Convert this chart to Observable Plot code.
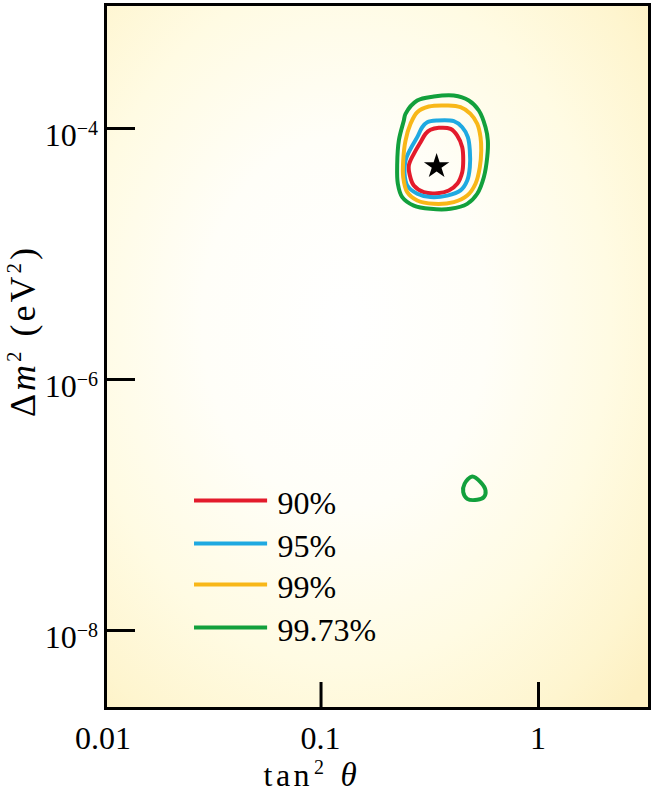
<!DOCTYPE html>
<html><head><meta charset="utf-8">
<script src="https://cdn.jsdelivr.net/npm/d3@7"></script>
<script src="https://cdn.jsdelivr.net/npm/@observablehq/plot@0.6"></script>
<style>body{margin:0;background:#fff}svg{display:block}</style>
</head><body><div id="chart"></div>
<script>
// ---- data ----
const xTicks = [0.01, 0.1, 1];
const xTickLabels = ["0.01", "0.1", "1"];
const yTicks = [1e-4, 1e-6, 1e-8];
const yTickExponents = ["−4", "−6", "−8"];
const levels = ["90%", "95%", "99%", "99.73%"];
const colors = ["#e31b2c", "#1fa9e1", "#f8b718", "#12a03c"];

const contour90 = [[0.3187,9.76e-5],[0.3480,1.013e-4],[0.3939,9.94e-5],[0.4229,8.79e-5],[0.4459,7.10e-5],[0.4506,5.56e-5],[0.4459,4.49e-5],[0.4229,3.63e-5],[0.3869,3.21e-5],[0.3422,3.05e-5],[0.2969,3.11e-5],[0.2671,3.51e-5],[0.2561,4.22e-5],[0.2533,5.07e-5],[0.2671,6.29e-5],[0.2868,7.78e-5],[0.3023,9.07e-5]];
const contour95 = [[0.3078,1.122e-4],[0.3422,1.158e-4],[0.4079,1.143e-4],[0.4459,1.024e-4],[0.4731,8.53e-5],[0.4832,6.68e-5],[0.4832,4.91e-5],[0.4701,3.85e-5],[0.4379,3.21e-5],[0.3803,2.92e-5],[0.3187,2.84e-5],[0.2769,3.02e-5],[0.2491,3.51e-5],[0.2421,4.36e-5],[0.2446,5.56e-5],[0.2579,6.89e-5],[0.2769,8.53e-5],[0.2919,1.024e-4]];
const contour99 = [[0.3130,1.497e-4],[0.3803,1.525e-4],[0.4379,1.478e-4],[0.4869,1.309e-4],[0.5226,1.090e-4],[0.5412,8.53e-5],[0.5453,6.68e-5],[0.5371,4.91e-5],[0.5132,3.63e-5],[0.4701,2.92e-5],[0.4079,2.59e-5],[0.3301,2.51e-5],[0.2769,2.67e-5],[0.2491,3.11e-5],[0.2387,4.09e-5],[0.2387,5.56e-5],[0.2446,8.02e-5],[0.2579,1.090e-4],[0.2769,1.349e-4]];
const contour9973 = [[0.2403,1.158e-4],[0.2446,1.309e-4],[0.2769,1.672e-4],[0.3301,1.799e-4],[0.4079,1.832e-4],[0.4781,1.672e-4],[0.5315,1.391e-4],[0.5706,1.024e-4],[0.5848,8.02e-5],[0.5810,5.91e-5],[0.5604,4.09e-5],[0.5226,3.02e-5],[0.4701,2.51e-5],[0.3939,2.29e-5],[0.3187,2.29e-5],[0.2671,2.43e-5],[0.2362,2.84e-5],[0.2255,3.63e-5],[0.2240,5.23e-5],[0.2279,8.02e-5]];
const contour9973Low = [[0.4957,1.687e-7],[0.5412,1.520e-7],[0.5706,1.305e-7],[0.5604,1.154e-7],[0.5226,1.100e-7],[0.4701,1.120e-7],[0.4506,1.265e-7],[0.4569,1.475e-7]];
const bestFit = [[0.34, 5.0e-5]];

// legend placement in data units (inside the frame)
const legendY = [1.086e-7, 4.93e-8, 2.33e-8, 1.057e-8];
const legendX1 = 0.0262, legendX2 = 0.0568, legendTextX = 0.0631;

// ---- build rows ----
const parts = [
  {level: "90%", id: "a", pts: contour90},
  {level: "95%", id: "b", pts: contour95},
  {level: "99%", id: "c", pts: contour99},
  {level: "99.73%", id: "d", pts: contour9973},
  {level: "99.73%", id: "e", pts: contour9973Low}
];
const rows = parts.flatMap(p => p.pts.map(([x, y]) => ({x, y, level: p.level, id: p.id})));
const legendRows = levels.map((l, i) => ({level: l, y: legendY[i]}));

const W = 652, H = 794;
const mL = 105, mR = 3, mT = 4, mB = 86;
const FONT = "Liberation Serif, Times New Roman, serif";

const plot = Plot.plot({
  width: W, height: H,
  marginLeft: mL, marginRight: mR, marginTop: mT, marginBottom: mB,
  style: {fontFamily: FONT, fontSize: "32px", background: "transparent"},
  x: {type: "log", domain: [0.01021, 3.238], axis: null},
  y: {type: "log", domain: [2.39e-9, 9.73e-4], axis: null},
  color: {domain: levels, range: colors},
  marks: [
    Plot.frame({fill: "url(#bgGrad)"}),
    Plot.line(rows, {x: "x", y: "y", z: "id", stroke: "level", strokeWidth: 4, curve: "catmull-rom-closed", strokeLinejoin: "round"}),
    Plot.dot(bestFit, {x: d => d[0], y: d => d[1], symbol: "star", r: 8, fill: "black", stroke: "none"}),
    Plot.ruleY(legendRows, {y: "y", x1: legendX1, x2: legendX2, stroke: "level", strokeWidth: 4}),
    Plot.text(legendRows, {x: legendTextX, y: "y", text: "level", textAnchor: "start", fontSize: 32, dy: 3, fill: "black"}),
    Plot.tickY(yTicks, {y: d => d, insetRight: (W - mL - mR) - 30, strokeWidth: 3, stroke: "black"}),
    Plot.tickX(xTicks.slice(1), {x: d => d, insetTop: (H - mT - mB) - 26, strokeWidth: 3, stroke: "black"}),
    Plot.frame({stroke: "black", strokeWidth: 3})
  ]
});

const svg = d3.select(plot);
const defs = svg.insert("defs", ":first-child");
const grad = defs.append("radialGradient").attr("id", "bgGrad")
  .attr("cx", 0.44).attr("cy", 0.45).attr("r", 0.75).attr("fx", 0.44).attr("fy", 0.45);
[[0, "#ffffff"], [0.35, "#fffef8"], [0.65, "#fffbe3"], [0.88, "#fef5cf"], [1, "#fdf0c2"]]
  .forEach(([o, c]) => grad.append("stop").attr("offset", o).attr("stop-color", c));

const xs = plot.scale("x"), ys = plot.scale("y");
const left = xs.range[0], bottom = ys.range[0];
const g = svg.append("g").attr("font-family", FONT).attr("fill", "black");

// y tick labels 10^-n
yTicks.forEach((v, i) => {
  const t = g.append("text").attr("x", left - 7).attr("y", ys.apply(v) + 18)
    .attr("text-anchor", "end").attr("font-size", 32);
  t.append("tspan").text("10");
  t.append("tspan").attr("dy", -11).attr("font-size", 20).text(yTickExponents[i]);
});
// x tick labels
xTicks.forEach((v, i) => {
  g.append("text").attr("x", xs.apply(v)).attr("y", bottom + 41)
    .attr("text-anchor", "middle").attr("font-size", 32).text(xTickLabels[i]);
});
// x axis label
{
  const t = g.append("text").attr("x", xs.apply(0.1) - 57).attr("y", bottom + 78)
    .attr("text-anchor", "start").attr("font-size", 32).attr("letter-spacing", 3.5);
  t.append("tspan").text("tan");
  t.append("tspan").attr("dy", -12).attr("dx", 1).attr("font-size", 20).text("2");
  t.append("tspan").attr("dy", 12).attr("dx", 13).attr("font-style", "italic").attr("font-size", 33).text("θ");
}
// y axis label
{
  const cy = ys.apply(1e-6) - 48;
  const t = g.append("text").attr("transform", `translate(35,${cy}) rotate(-90)`)
    .attr("text-anchor", "middle").attr("font-size", 36).attr("letter-spacing", 3);
  t.append("tspan").text("Δ");
  t.append("tspan").attr("font-style", "italic").text("m");
  t.append("tspan").attr("dy", -14).attr("font-size", 21).text("2");
  t.append("tspan").attr("dy", 14).text(" (eV");
  t.append("tspan").attr("dy", -14).attr("font-size", 21).text("2");
  t.append("tspan").attr("dy", 14).text(")");
}

document.getElementById("chart").appendChild(plot);
</script>
</body></html>
